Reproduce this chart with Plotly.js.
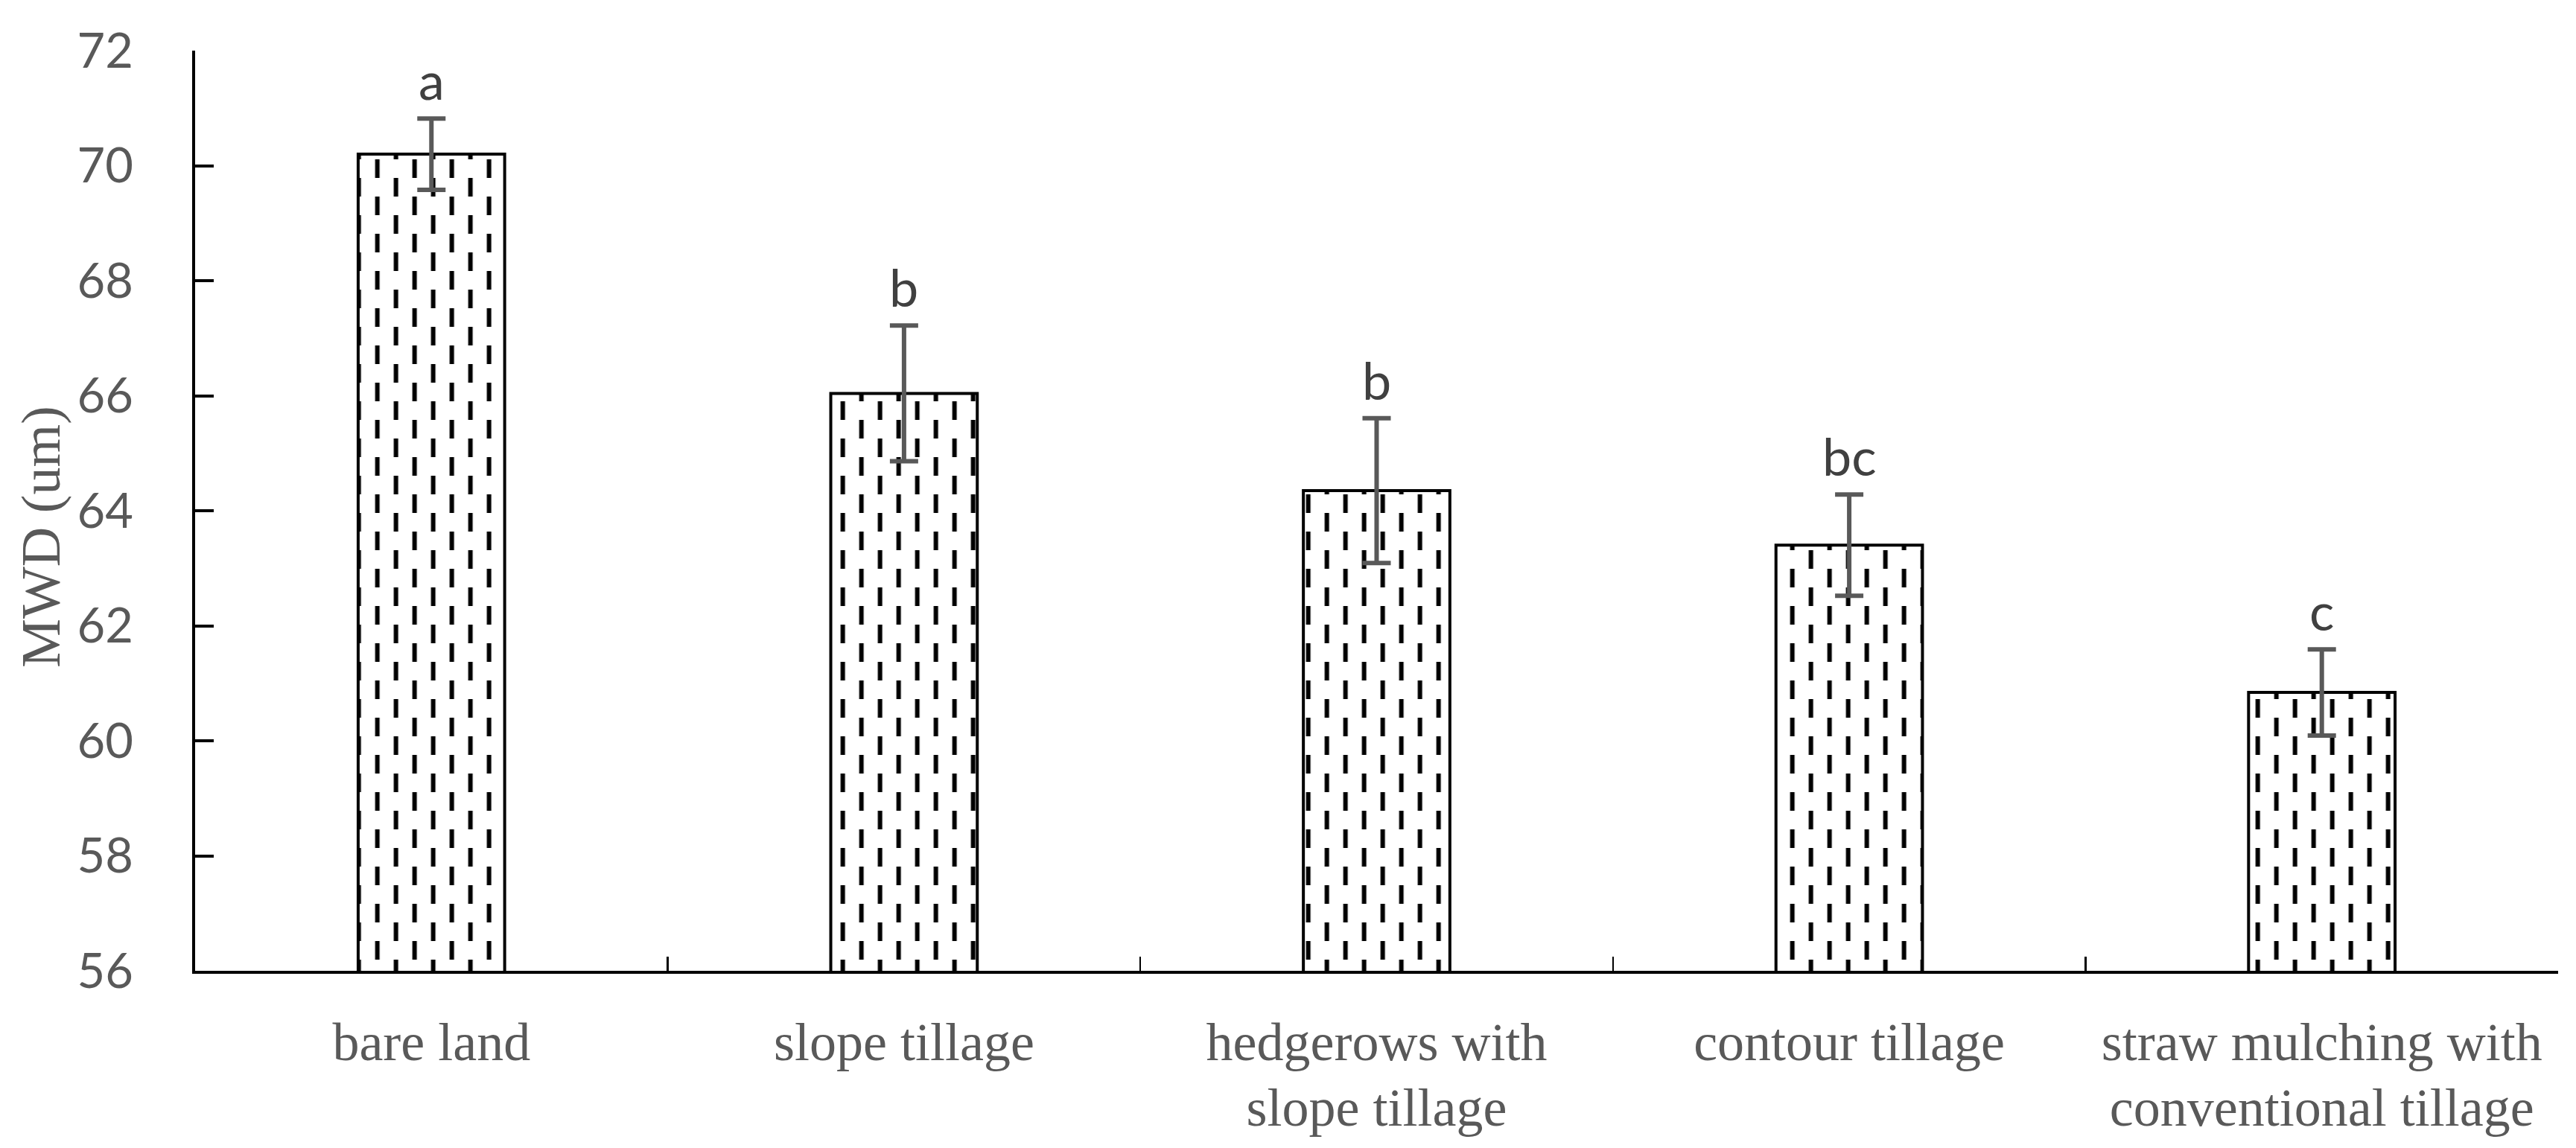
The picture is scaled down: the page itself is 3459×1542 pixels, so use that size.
<!DOCTYPE html>
<html>
<head>
<meta charset="utf-8">
<script src="https://cdn.plot.ly/plotly-3.0.1.min.js"></script>
<style>
  html, body { margin: 0; padding: 0; background: #ffffff; }
  #chart { width: 3459px; height: 1542px; }
</style>
</head>
<body>
<div id="chart"></div>
<script>
// ---- data ----
const categories = [
  "bare land",
  "slope tillage",
  "hedgerows with<br>slope tillage",
  "contour tillage",
  "straw mulching with<br>conventional tillage"
];
const mwdValues = [70.20, 66.04, 64.35, 63.40, 60.84];
const mwdErrors = [0.62, 1.18, 1.26, 0.88, 0.75];
const groupLetters = ["a", "b", "b", "bc", "c"];
const yTickValues = [56, 58, 60, 62, 64, 66, 68, 70, 72];
const yAxisTitle = "MWD (um)";

const serif = "'Liberation Serif', 'Times New Roman', serif";
const sans = "Lato, 'Open Sans', sans-serif";

const barTrace = {
  type: "bar",
  x: categories,
  y: mwdValues,
  width: 0.31,
  marker: {
    color: "#ffffff",
    line: { color: "#000000", width: 4 },
    pattern: { shape: "|", fgcolor: "#000000", bgcolor: "#ffffff", size: 50, solidity: 0.12, fillmode: "replace" }
  },
  error_y: {
    type: "data",
    array: mwdErrors,
    visible: true,
    color: "#595959",
    thickness: 6,
    width: 19
  },
  hoverinfo: "skip",
  showlegend: false
};

const letterAnnotations = categories.map((c, i) => ({
  x: c,
  y: mwdValues[i] + mwdErrors[i],
  xref: "x",
  yref: "y",
  text: groupLetters[i],
  showarrow: false,
  xanchor: "center",
  yanchor: "bottom",
  yshift: 8,
  font: { family: sans, size: 70, color: "#404040" }
}));

const titleAnnotation = {
  xref: "paper",
  yref: "paper",
  x: 0,
  y: 0.471,
  xanchor: "center",
  yanchor: "middle",
  xshift: -207,
  textangle: -90,
  text: yAxisTitle,
  showarrow: false,
  font: { family: serif, size: 74, color: "#595959" }
};

const layout = {
  width: 3459,
  height: 1542,
  margin: { l: 262, r: 24, t: 68, b: 238, pad: 0 },
  paper_bgcolor: "#ffffff",
  plot_bgcolor: "#ffffff",
  showlegend: false,
  xaxis: {
    type: "category",
    showline: true,
    linecolor: "#000000",
    linewidth: 4,
    ticks: "inside",
    tickson: "boundaries",
    ticklen: 19,
    tickwidth: 2.5,
    tickcolor: "#000000",
    tickangle: 0,
    showgrid: false,
    zeroline: false,
    ticklabelstandoff: 30,
    tickfont: { family: serif, size: 72, color: "#595959" }
  },
  yaxis: {
    range: [56, 72],
    tickvals: yTickValues,
    showline: true,
    linecolor: "#000000",
    linewidth: 4,
    ticks: "inside",
    ticklen: 25,
    tickwidth: 4,
    tickcolor: "#000000",
    showgrid: false,
    zeroline: false,
    ticklabelstandoff: 66,
    tickfont: { family: sans, size: 65, color: "#595959" }
  },
  annotations: letterAnnotations.concat([titleAnnotation])
};

// Turn Plotly's "|" tile into staggered short dashes (Excel-style dashed vertical fill)
function postProcess() {
  document.querySelectorAll("#chart pattern").forEach(p => {
    p.setAttribute("x", "32.2");
    p.setAttribute("y", "46");
    p.querySelectorAll("path").forEach(path => {
      path.setAttribute("d", "M12.5,0V25M37.5,25V50");
      path.setAttribute("stroke-width", "6px");
      path.setAttribute("stroke", "#000000");
      path.setAttribute("opacity", "1");
    });
  });
  // tighter line spacing for two-line category labels
  document.querySelectorAll("#chart .xtick text tspan.line").forEach(t => {
    const dy = t.getAttribute("dy");
    if (!dy) return;
    const v = parseFloat(dy);
    if (!v) return;
    const unit = dy.replace(/[-0-9.]/g, "") || "";
    t.setAttribute("dy", (v * 1.21 / 1.3) + unit);
  });
}

Plotly.newPlot("chart", [barTrace], layout, { staticPlot: true, displayModeBar: false }).then(gd => {
  postProcess();
});
</script>
</body>
</html>
